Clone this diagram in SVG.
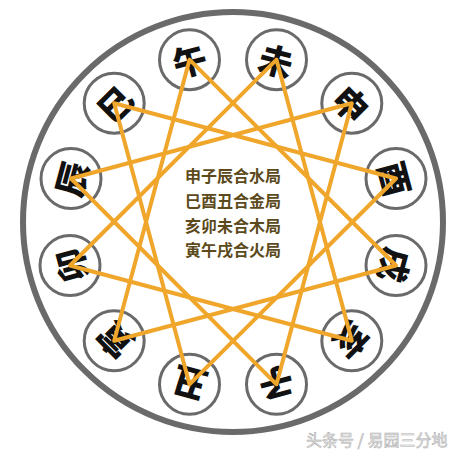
<svg xmlns="http://www.w3.org/2000/svg" width="470" height="455" viewBox="0 0 470 455">
<style>
.ring{fill:#fff;stroke:#6a6a6a;stroke-width:3}
.ch{font-family:"Noto Sans CJK SC","Noto Sans CJK JP",sans-serif;font-weight:900;font-size:34px;fill:#111;text-anchor:middle;dominant-baseline:central}
.ln{stroke:#EFA62B;stroke-width:4;stroke-linejoin:round;fill:none}
.ct{font-family:"Noto Sans CJK SC","Noto Sans CJK JP",sans-serif;font-weight:700;font-size:16px;fill:#5c4a1c;text-anchor:middle}
.wm{font-family:"Noto Sans CJK SC","Noto Sans CJK JP",sans-serif;font-size:16px;fill:#f4f4f4;stroke:#b0b0b0;stroke-width:0.6}
</style>
<rect width="470" height="455" fill="#fff"/>
<circle id="outer" cx="233" cy="222" r="210" fill="#fff" stroke="#6a6a6a" stroke-width="6"/>
<g id="n-wu"><circle class="ring" cx="189.5" cy="59.7" r="30"/><text class="ch" transform="translate(189.5 59.7) rotate(-15)">午</text></g>
<g id="n-wei"><circle class="ring" cx="276.5" cy="59.7" r="30"/><text class="ch" transform="translate(276.5 59.7) rotate(15)">未</text></g>
<g id="n-shen"><circle class="ring" cx="351.8" cy="103.2" r="30"/><text class="ch" transform="translate(351.8 103.2) rotate(45)">申</text></g>
<g id="n-you"><circle class="ring" cx="396" cy="178.5" r="30"/><text class="ch" transform="translate(396 178.5) rotate(75)">酉</text></g>
<g id="n-xu"><circle class="ring" cx="396" cy="265.5" r="30"/><text class="ch" transform="translate(396 265.5) rotate(105)">戌</text></g>
<g id="n-hai"><circle class="ring" cx="351.8" cy="340.8" r="30"/><text class="ch" transform="translate(351.8 340.8) rotate(135)">亥</text></g>
<g id="n-zi"><circle class="ring" cx="276.5" cy="384.3" r="30"/><text class="ch" transform="translate(276.5 384.3) rotate(165)">子</text></g>
<g id="n-chou"><circle class="ring" cx="189.5" cy="384.3" r="30"/><text class="ch" transform="translate(189.5 384.3) rotate(195)">丑</text></g>
<g id="n-yin"><circle class="ring" cx="114.2" cy="340.8" r="30"/><text class="ch" transform="translate(114.2 340.8) rotate(225)">寅</text></g>
<g id="n-mao"><circle class="ring" cx="70" cy="265.5" r="30"/><text class="ch" transform="translate(70 265.5) rotate(255)">卯</text></g>
<g id="n-chen"><circle class="ring" cx="71" cy="178.5" r="30"/><text class="ch" transform="translate(71 178.5) rotate(285)">辰</text></g>
<g id="n-si"><circle class="ring" cx="114.2" cy="103.2" r="30"/><text class="ch" transform="translate(114.2 103.2) rotate(315)">巳</text></g>
<g id="connectors">
<polygon class="ln" points="351.8,103.2 276.5,384.3 71,178.5"/>
<polygon class="ln" points="114.2,103.2 396,178.5 189.5,384.3"/>
<polygon class="ln" points="351.8,340.8 70,265.5 276.5,59.7"/>
<polygon class="ln" points="114.2,340.8 189.5,59.7 396,265.5"/>
</g>
<g id="center-text">
<text class="ct" x="233" y="182">申子辰合水局</text>
<text class="ct" x="233" y="207">巳酉丑合金局</text>
<text class="ct" x="233" y="232">亥卯未合木局</text>
<text class="ct" x="233" y="256">寅午戌合火局</text>
</g>
<text class="wm" x="306" y="446">头条号 / 易园三分地</text>
</svg>
